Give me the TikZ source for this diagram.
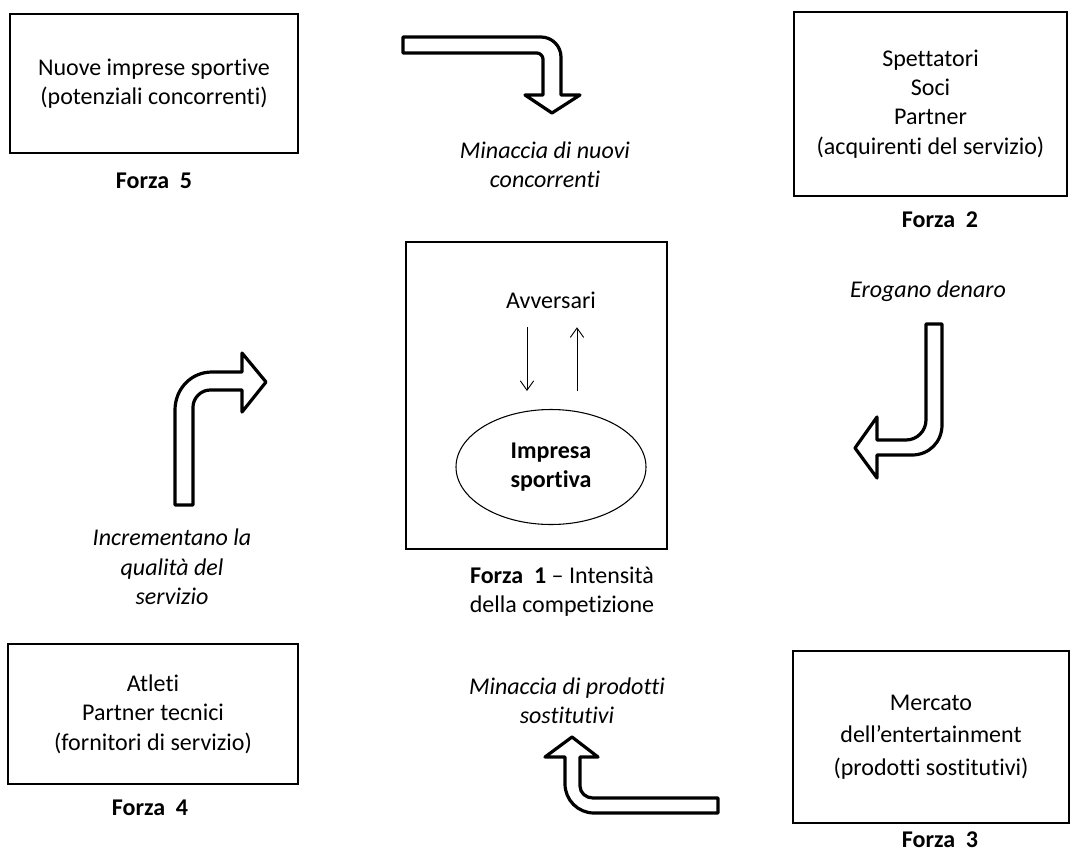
\documentclass[tikz,border=0pt]{standalone}
\usepackage{fontspec}
\setmainfont{Carlito}[Ligatures=NoCommon]
\usetikzlibrary{positioning,arrows.meta,shapes.geometric}
\tikzset{
  forcebox/.style={draw=black, line width=1.1pt, align=center, inner sep=2pt,
    font=\fontsize{18}{22}\selectfont},
  forcelab/.style={font=\fontsize{18}{22}\selectfont\bfseries, inner sep=0pt},
  threat/.style={font=\fontsize{18}{22}\selectfont\itshape, align=center, inner sep=0pt},
  firm/.style={draw=black, ellipse, line width=0.8pt, inner sep=0pt, align=center,
    font=\fontsize{18}{22}\selectfont\bfseries},
  rival/.style={-{Straight Barb[length=7pt,width=10pt]}, line width=0.7pt},
  blockarrow/.style={draw=black, fill=white, line width=2.4pt, line join=round},
}
\begin{document}
\begin{tikzpicture}[x=0.75pt, y=-0.75pt]
  \useasboundingbox (0,0) rectangle (1072,854);

  % the five forces
  \node[forcebox, minimum width=216pt, minimum height=104.25pt] (f5) at (154,83.5)
    {Nuove imprese sportive\\(potenziali concorrenti)};
  \node[forcebox, minimum width=204.75pt, minimum height=138pt] (f2) at (930.5,104)
    {Spettatori\\Soci\\Partner\\(acquirenti del servizio)};
  \node[forcebox, minimum width=195.75pt, minimum height=230.25pt] (f1) at (536.5,395.5) {};
  \node[forcebox, minimum width=217.5pt, minimum height=105pt] (f4) at (153,714)
    {Atleti\\Partner tecnici\\(fornitori di servizio)};
  \node[forcebox, minimum width=207pt, minimum height=129pt] (f3) at (931,737)
    {Mercato\\[2pt]dell'entertainment\\[3pt](prodotti sostitutivi)};

  \node[forcelab] (l5) at (154,181) {Forza~ 5};
  \node[forcelab] (l2) at (940,220) {Forza~ 2};
  \node[forcelab] (l4) at (150,808) {Forza~ 4};
  \node[forcelab] (l3) at (940,840) {Forza~ 3};
  \node[forcelab, align=center, font=\fontsize{18}{22}\selectfont] (l1) at (562,592)
    {\textbf{Forza~ 1} -- Intensità\\della competizione};

  % inside force 1
  \node[font=\fontsize{18}{22}\selectfont, inner sep=0pt] (avv) at (551,300) {Avversari};
  \node[firm, minimum width=142.5pt, minimum height=86.25pt] (imp) at (551,467)
    {Impresa\\sportiva};
  \draw[rival] ([xshift=-18pt,yshift=-14pt]avv.south) -- ([xshift=-18pt,yshift=13.5pt]imp.north);
  \draw[rival] ([xshift=19.5pt,yshift=13.5pt]imp.north) -- ([xshift=19.5pt,yshift=-14pt]avv.south);

  % threats
  \node[threat] (t5) at (545,165) {Minaccia di nuovi\\concorrenti};
  \node[threat] (t2) at (928,291) {Erogano denaro};
  \node[threat] (t4) at (172,567) {Incrementano la\\qualità del\\servizio};
  \node[threat] (t3) at (567,701) {Minaccia di prodotti\\sostitutivi};

  % bent block arrows
  \draw[blockarrow] (403,37) -- (541,37) .. controls (552,37) and (561,46) .. (561,57)
    -- (561,95) -- (580,95) -- (552,113) -- (525,95) -- (543,95) -- (543,59)
    .. controls (543,56) and (540,53) .. (537,53) -- (403,53) -- cycle;
  \draw[blockarrow] (926,324) -- (942,324) -- (942,425)
    .. controls (942,442) and (929,455) .. (912,455) -- (877,455) -- (877,478)
    -- (855,448) -- (877,417) -- (877,440) -- (906,440)
    .. controls (917,440) and (926,431) .. (926,420) -- cycle;
  \draw[blockarrow] (175,505) -- (175,410) .. controls (175,389) and (191,372) .. (212,372)
    -- (242,372) -- (242,353) -- (266,382) -- (242,412) -- (242,390) -- (210,390)
    .. controls (201,390) and (193,398) .. (193,407) -- (193,505) -- cycle;
  \draw[blockarrow] (718,798) -- (718,813) -- (594,813)
    .. controls (578,813) and (565,800) .. (565,784) -- (565,757) -- (545,757)
    -- (572,737) -- (598,757) -- (580,757) -- (580,786)
    .. controls (580,793) and (586,798) .. (593,798) -- cycle;
\end{tikzpicture}
\end{document}
